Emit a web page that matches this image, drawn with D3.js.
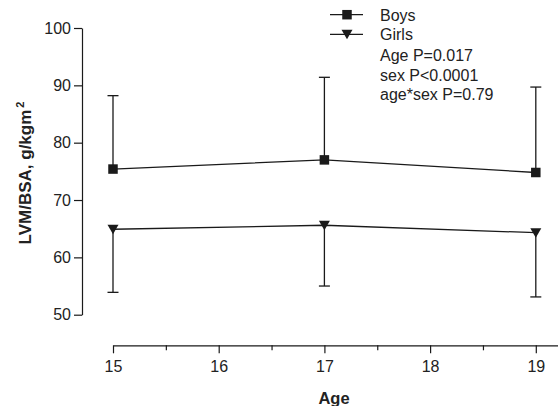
<!DOCTYPE html>
<html><head><meta charset="utf-8">
<script src="https://cdn.jsdelivr.net/npm/d3@7"></script>
<style>body{margin:0;background:#fff}svg{display:block}text{font-family:"Liberation Sans",Arial,sans-serif}</style>
</head><body><svg id="c" width="558" height="406"></svg>
<script>
const ages = [15, 17, 19];
const boysMean = [75.4, 77.0, 74.8];
const boysUpper = [88.2, 91.4, 89.7];
const girlsMean = [64.9, 65.6, 64.3];
const girlsLower = [53.9, 55.0, 53.1];
const yTicks = [50, 60, 70, 80, 90, 100];
const xTicks = [15, 15.5, 16, 16.5, 17, 17.5, 18, 18.5, 19];
const legendLabels = ["Boys", "Girls"];
const statsText = ["Age P=0.017", "sex P<0.0001", "age*sex P=0.79"];

const svg = d3.select("#c");
const x = d3.scaleLinear().domain([15, 19.21]).range([113, 558]);
const y = d3.scaleLinear().domain([50, 100]).range([314.7, 28]);
const ink = "#1a1a1a";

// Y axis
const ya = svg.append("g").attr("transform", "translate(82,0)")
  .call(d3.axisLeft(y).tickValues(yTicks).tickSize(8).tickSizeOuter(0).tickPadding(3));
ya.selectAll("text").attr("font-size", 16).attr("fill", "#222");
ya.select(".domain").attr("stroke", ink).attr("stroke-width", 1.2);
ya.selectAll(".tick line").attr("stroke", ink).attr("stroke-width", 1.2);

// X axis
const xa = svg.append("g").attr("transform", "translate(0,345.3)")
  .call(d3.axisBottom(x).tickValues(xTicks).tickSize(8).tickSizeOuter(0).tickPadding(7)
    .tickFormat(d => Number.isInteger(d) ? d3.format("d")(d) : ""));
xa.selectAll("text").attr("font-size", 16).attr("fill", "#222");
xa.select(".domain").attr("stroke", ink).attr("stroke-width", 1.2);
xa.selectAll(".tick line").attr("stroke", ink).attr("stroke-width", 1.2)
  .attr("y2", d => Number.isInteger(d) ? 8 : 5);

// Axis titles
svg.append("text").attr("transform", "translate(31,173) rotate(-90)")
  .attr("text-anchor", "middle").attr("font-size", 17).attr("font-weight", "bold").attr("fill", "#222")
  .text("LVM/BSA, g/kgm").append("tspan").attr("dy", -7).attr("dx", 2).attr("font-size", 11).text("2");
svg.append("text").attr("x", 334).attr("y", 404).attr("text-anchor", "middle")
  .attr("font-size", 16.5).attr("font-weight", "bold").attr("fill", "#222").text("Age");

const line = d3.line().x(d => x(d[0])).y(d => y(d[1]));
const capW = 5.5;
const boys = ages.map((a, i) => [a, boysMean[i], boysUpper[i]]);
const girls = ages.map((a, i) => [a, girlsMean[i], girlsLower[i]]);
[boys, girls].forEach(ser => {
  const g = svg.append("g").attr("stroke", ink).attr("stroke-width", 1.3);
  ser.forEach(d => {
    g.append("line").attr("x1", x(d[0])).attr("x2", x(d[0])).attr("y1", y(d[1])).attr("y2", y(d[2]));
    g.append("line").attr("x1", x(d[0]) - capW).attr("x2", x(d[0]) + capW).attr("y1", y(d[2])).attr("y2", y(d[2]));
  });
});
svg.append("path").attr("d", line(boys.map(d => [d[0], d[1]]))).attr("fill", "none").attr("stroke", ink).attr("stroke-width", 1.3);
svg.append("path").attr("d", line(girls.map(d => [d[0], d[1]]))).attr("fill", "none").attr("stroke", ink).attr("stroke-width", 1.3);

const sq = 9.5;
svg.selectAll(".bm").data(boys).enter().append("rect")
  .attr("x", d => x(d[0]) - sq / 2).attr("y", d => y(d[1]) - sq / 2).attr("width", sq).attr("height", sq).attr("fill", ink);
const tri = (cx, cy) => `M${cx - 5.5},${cy - 4.5}L${cx + 5.5},${cy - 4.5}L${cx},${cy + 5}Z`;
svg.selectAll(".gm").data(girls).enter().append("path")
  .attr("d", d => tri(x(d[0]), y(d[1]))).attr("fill", ink);

// Legend
const lg = svg.append("g");
const ly = [14.7, 34.3];
legendLabels.forEach((lab, i) => {
  lg.append("line").attr("x1", 330).attr("x2", 363).attr("y1", ly[i]).attr("y2", ly[i]).attr("stroke", ink).attr("stroke-width", 1.3);
  if (i === 0) lg.append("rect").attr("x", 347 - sq / 2).attr("y", ly[i] - sq / 2).attr("width", sq).attr("height", sq).attr("fill", ink);
  else lg.append("path").attr("d", tri(347, ly[i])).attr("fill", ink);
  lg.append("text").attr("x", 380).attr("y", ly[i] + 6).attr("font-size", 16).attr("fill", "#222").text(lab);
});
statsText.forEach((t, i) => {
  lg.append("text").attr("x", 380).attr("y", 61 + i * 19.5).attr("font-size", 16).attr("fill", "#222").text(t);
});
</script></body></html>
